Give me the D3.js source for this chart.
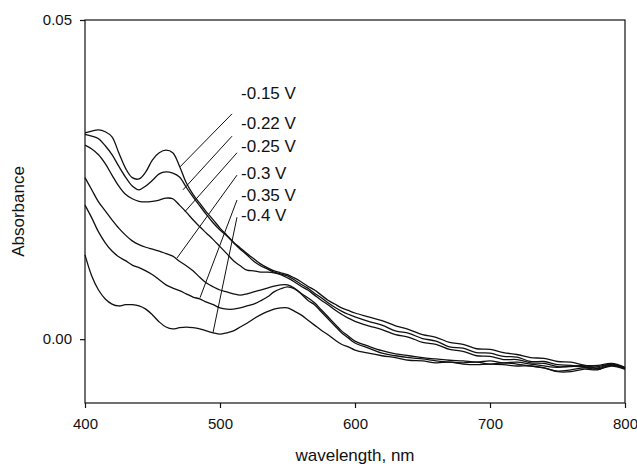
<!DOCTYPE html>
<html>
<head>
<meta charset="utf-8">
<script src="https://cdn.jsdelivr.net/npm/d3@7"></script>
<style>
  body { margin: 0; background: #fff; }
  svg { display: block; font-family: "Liberation Sans", Arial, sans-serif; }
  .curve { fill: none; stroke: #111; stroke-width: 1.3; }
  .leader { stroke: #111; stroke-width: 1; }
</style>
</head>
<body>
<svg id="chart" width="637" height="467"></svg>
<script>
// Spectra at different potentials

// wavelengths (nm): 5 nm steps up to 600, then 10 nm steps
const wavelengths = [
  400, 405, 410, 415, 420, 425, 430, 435, 440, 445, 450, 455, 460, 465, 470, 475, 480,
  485, 490, 495, 500, 505, 510, 515, 520, 525, 530, 535, 540, 545, 550, 555, 560, 565,
  570, 575, 580, 585, 590, 595, 600,
  610, 620, 630, 640, 650, 660, 670, 680, 690, 700, 710, 720, 730, 740, 750, 760, 770,
  780, 790, 800
];

const potentials = ['-0.15 V', '-0.22 V', '-0.25 V', '-0.3 V', '-0.35 V', '-0.4 V'];

const abs015 = [
  0.0323, 0.0326, 0.0328, 0.0325, 0.0317, 0.0292, 0.0268, 0.0253, 0.0251, 0.0262, 0.0281,
  0.0292, 0.0296, 0.0292, 0.0271, 0.0245, 0.0227, 0.0213, 0.0199, 0.0187, 0.0174, 0.0163,
  0.0152, 0.0143, 0.0134, 0.0126, 0.0118, 0.0112, 0.0107, 0.0104, 0.0101, 0.0096, 0.0090,
  0.0083, 0.0077, 0.0069, 0.0061, 0.0055, 0.0049, 0.0045, 0.0041,
  0.0035, 0.0029, 0.0021, 0.0015, 0.0007, 0.0003, -0.0005, -0.0008, -0.0015, -0.0016,
  -0.0021, -0.0024, -0.0029, -0.0030, -0.0035, -0.0036, -0.0041, -0.0041, -0.0038, -0.0044
];
const abs022 = [
  0.0321, 0.0318, 0.0314, 0.0303, 0.0289, 0.0271, 0.0254, 0.0240, 0.0234, 0.0240, 0.0249,
  0.0259, 0.0262, 0.0260, 0.0254, 0.0238, 0.0223, 0.0209, 0.0195, 0.0182, 0.0171, 0.0162,
  0.0151, 0.0141, 0.0132, 0.0122, 0.0115, 0.0110, 0.0105, 0.0102, 0.0099, 0.0093, 0.0086,
  0.0080, 0.0072, 0.0065, 0.0057, 0.0050, 0.0044, 0.0039, 0.0035,
  0.0028, 0.0022, 0.0013, 0.0009, 0.0001, -0.0003, -0.0012, -0.0014, -0.0021, -0.0022,
  -0.0027, -0.0028, -0.0035, -0.0035, -0.0040, -0.0041, -0.0043, -0.0043, -0.0039, -0.0045
];
const abs025 = [
  0.0304, 0.0298, 0.0289, 0.0275, 0.0257, 0.0240, 0.0227, 0.0220, 0.0216, 0.0215, 0.0216,
  0.0218, 0.0221, 0.0220, 0.0210, 0.0199, 0.0187, 0.0176, 0.0166, 0.0156, 0.0145, 0.0134,
  0.0123, 0.0115, 0.0108, 0.0107, 0.0105, 0.0105, 0.0104, 0.0101, 0.0096, 0.0090, 0.0083,
  0.0077, 0.0069, 0.0061, 0.0054, 0.0046, 0.0039, 0.0033, 0.0028,
  0.0021, 0.0015, 0.0007, 0.0003, -0.0005, -0.0008, -0.0016, -0.0019, -0.0026, -0.0027,
  -0.0032, -0.0032, -0.0037, -0.0038, -0.0043, -0.0043, -0.0041, -0.0046, -0.0041, -0.0045
];
const abs030 = [
  0.0253, 0.0234, 0.0215, 0.0201, 0.0187, 0.0174, 0.0163, 0.0154, 0.0148, 0.0144, 0.0141,
  0.0138, 0.0134, 0.0130, 0.0122, 0.0115, 0.0107, 0.0097, 0.0088, 0.0082, 0.0077, 0.0074,
  0.0071, 0.0069, 0.0071, 0.0074, 0.0077, 0.0080, 0.0083, 0.0085, 0.0085, 0.0080, 0.0072,
  0.0065, 0.0057, 0.0046, 0.0035, 0.0024, 0.0013, 0.0005, -0.0003,
  -0.0011, -0.0018, -0.0023, -0.0026, -0.0029, -0.0031, -0.0033, -0.0034, -0.0036, -0.0034,
  -0.0037, -0.0036, -0.0039, -0.0042, -0.0044, -0.0042, -0.0044, -0.0045, -0.0039, -0.0045
];
const abs035 = [
  0.0210, 0.0190, 0.0168, 0.0151, 0.0138, 0.0129, 0.0123, 0.0116, 0.0112, 0.0107, 0.0101,
  0.0093, 0.0085, 0.0080, 0.0076, 0.0071, 0.0066, 0.0063, 0.0058, 0.0054, 0.0049, 0.0047,
  0.0047, 0.0049, 0.0052, 0.0055, 0.0060, 0.0066, 0.0074, 0.0079, 0.0082, 0.0079, 0.0071,
  0.0061, 0.0054, 0.0043, 0.0032, 0.0021, 0.0010, 0.0002, -0.0006,
  -0.0014, -0.0022, -0.0026, -0.0029, -0.0031, -0.0034, -0.0036, -0.0037, -0.0036, -0.0039,
  -0.0037, -0.0039, -0.0042, -0.0045, -0.0050, -0.0048, -0.0045, -0.0047, -0.0042, -0.0047
];
const abs040 = [
  0.0132, 0.0099, 0.0077, 0.0063, 0.0055, 0.0052, 0.0054, 0.0054, 0.0052, 0.0047, 0.0038,
  0.0027, 0.0019, 0.0016, 0.0018, 0.0019, 0.0018, 0.0016, 0.0013, 0.0010, 0.0008, 0.0010,
  0.0013, 0.0019, 0.0025, 0.0032, 0.0038, 0.0043, 0.0047, 0.0049, 0.0049, 0.0044, 0.0038,
  0.0030, 0.0022, 0.0014, 0.0007, -0.0001, -0.0008, -0.0012, -0.0017,
  -0.0022, -0.0026, -0.0029, -0.0033, -0.0034, -0.0037, -0.0036, -0.0039, -0.0040, -0.0039,
  -0.0040, -0.0042, -0.0042, -0.0045, -0.0051, -0.0051, -0.0047, -0.0048, -0.0040, -0.0047
];

const seriesValues = [abs015, abs022, abs025, abs030, abs035, abs040];

// label anchor (nm, abs) and leader line from -> to (nm, abs)
const labelWl = [515.6, 515.6, 515.6, 515.6, 515.6, 515.6];
const labelAbs = [0.0385, 0.0338, 0.0303, 0.0261, 0.0225, 0.0194];
const leaderFrom = [[508.9, 0.0353], [508.9, 0.0318], [512.6, 0.0292], [512.6, 0.0257], [512.6, 0.0218], [512.6, 0.0191]];
const leaderTo = [[470.4, 0.0270], [472.6, 0.0234], [474.1, 0.0200], [468.1, 0.0127], [485.2, 0.0065], [494.8, 0.0010]];

const xTicks = [400, 500, 600, 700, 800];
const yTicks = [0.00, 0.05];

const width = 637, height = 467;
const margin = { top: 20, right: 12, bottom: 64, left: 85 };

const svg = d3.select('#chart');

const x = d3.scaleLinear().domain([400, 800]).range([margin.left, width - margin.right]);
const y = d3.scaleLinear().domain([-0.01, 0.05]).range([height - margin.bottom, margin.top]);

// frame
svg.append('rect')
  .attr('x', x(400)).attr('y', y(0.05))
  .attr('width', x(800) - x(400)).attr('height', y(-0.01) - y(0.05))
  .attr('fill', 'none').attr('stroke', '#111').attr('stroke-width', 1.2);

// axes
const xAxis = svg.append('g')
  .attr('transform', `translate(0,${y(-0.01)})`)
  .call(d3.axisBottom(x).tickValues(xTicks).tickSize(5).tickSizeOuter(0).tickPadding(10));
const yAxis = svg.append('g')
  .attr('transform', `translate(${x(400)},0)`)
  .call(d3.axisLeft(y).tickValues(yTicks).tickFormat(d3.format('.2f')).tickSize(5).tickSizeOuter(0).tickPadding(8));

[xAxis, yAxis].forEach(g => {
  g.select('.domain').remove();
  g.selectAll('line').attr('stroke', '#111').attr('stroke-width', 1.2);
  g.selectAll('text').attr('fill', '#111').style('font-size', '15px')
    .style('font-family', '"Liberation Sans", Arial, sans-serif');
});

// axis titles
svg.append('text')
  .attr('x', (x(400) + x(800)) / 2).attr('y', 461)
  .attr('text-anchor', 'middle')
  .style('font-size', '17px').attr('fill', '#111')
  .text('wavelength, nm');

svg.append('text')
  .attr('transform', `translate(24,${(y(-0.01) + y(0.05)) / 2}) rotate(-90)`)
  .attr('text-anchor', 'middle')
  .style('font-size', '17px').attr('fill', '#111')
  .text('Absorbance');

// curves
const line = d3.line()
  .x(d => x(d[0]))
  .y(d => y(d[1]))
  .curve(d3.curveCatmullRom.alpha(0.5));

svg.selectAll('path.curve')
  .data(seriesValues)
  .enter()
  .append('path')
  .attr('class', 'curve')
  .attr('d', vals => line(vals.map((v, i) => [wavelengths[i], v])));

// leaders and labels
svg.selectAll('line.leader')
  .data(potentials)
  .enter()
  .append('line')
  .attr('class', 'leader')
  .attr('x1', (d, i) => x(leaderFrom[i][0]))
  .attr('y1', (d, i) => y(leaderFrom[i][1]))
  .attr('x2', (d, i) => x(leaderTo[i][0]))
  .attr('y2', (d, i) => y(leaderTo[i][1]));

svg.selectAll('text.label')
  .data(potentials)
  .enter()
  .append('text')
  .attr('class', 'label')
  .attr('x', (d, i) => x(labelWl[i]))
  .attr('y', (d, i) => y(labelAbs[i]))
  .attr('dy', '0.35em')
  .style('font-size', '17px').attr('fill', '#111')
  .text(d => d);
</script>
</body>
</html>
